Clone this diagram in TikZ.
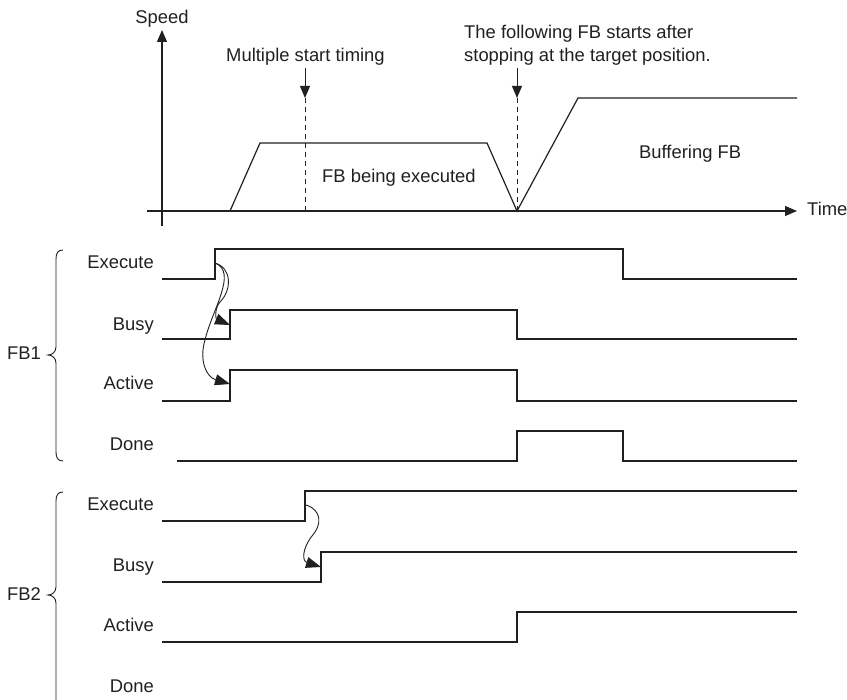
\documentclass[tikz,border=0pt]{standalone}
\usepackage{fontspec}
\setmainfont{Liberation Sans}
\usetikzlibrary{arrows.meta}
\definecolor{ink}{HTML}{231F20}
\begin{document}
\begin{tikzpicture}[x=1pt,y=-1pt,
  sig/.style={draw=ink,line width=1.3pt,line join=miter},
  tip/.style={-{Triangle[length=12pt,width=10pt]}},
  axis/.style={draw=ink,line width=1.1pt,tip},
  cause/.style={draw=ink,line width=0.9pt,-{Triangle[length=15pt,width=11pt]}},
  marker/.style={draw=ink,line width=1pt,tip},
  dashmark/.style={draw=ink,line width=1pt,dash pattern=on 5pt off 4pt},
  lbl/.style={text=ink,inner sep=0pt,font=\fontsize{18.4}{22}\selectfont},
  brace/.style={draw=ink,line width=0.9pt}]
\useasboundingbox (0,0) rectangle (847,700);
% ---------- speed chart ----------
\coordinate (ybot) at (162,226);
\coordinate (ytop) at (162,30);
\coordinate (xl) at (147,211);
\coordinate (xr) at (797,211);
\draw[axis] (ybot) -- (ytop);
\draw[axis] (xl) -- (xr);
\node[lbl,anchor=base] (speed) at (162,24) {Speed};
\node[lbl,anchor=base west] (time) at (807,216) {Time};
\draw[sig,line width=1.2pt] (230,211) -- (260,143) -- (487,143) -- (517,211) -- (578,98) -- (797,98);
\node[lbl,anchor=base west] (exec) at (322,183) {FB being executed};
\node[lbl,anchor=base west] (buff) at (639,159) {Buffering FB};
% markers
\node[lbl,anchor=base west] (multi) at (226,62) {Multiple start timing};
\coordinate (m1a) at (305,68);
\coordinate (m1b) at (305,98);
\coordinate (m1c) at (305,211);
\draw[marker] (m1a) -- (m1b);
\draw[dashmark] (m1b) -- (m1c);
\node[lbl,anchor=base west] (follow1) at (464,39) {The following FB starts after};
\node[lbl,anchor=base west] (follow2) at (464,62) {stopping at the target position.};
\coordinate (m2a) at (517,68);
\coordinate (m2b) at (517,98);
\coordinate (m2c) at (517,211);
\draw[marker] (m2a) -- (m2b);
\draw[dashmark] (m2b) -- (m2c);
% ---------- FB1 ----------
\node[lbl,anchor=base east] (e1) at (154,269) {Execute};
\node[lbl,anchor=base east] (b1) at (154,331) {Busy};
\node[lbl,anchor=base east] (a1) at (154,390) {Active};
\node[lbl,anchor=base east] (d1) at (154,451) {Done};
\node[lbl,anchor=base west] (fb1) at (7,360) {FB1};
\draw[sig] (162,279) -- (215,279) -- (215,249) -- (623,249) -- (623,279) -- (797,279);
\draw[sig] (162,339) -- (230,339) -- (230,310) -- (517,310) -- (517,339) -- (797,339);
\draw[sig] (162,401) -- (230,401) -- (230,370) -- (517,370) -- (517,401) -- (797,401);
\draw[sig] (177,461) -- (517,461) -- (517,431) -- (623,431) -- (623,461) -- (797,461);
\draw[brace] (63,250) .. controls (58,250) and (56,253) .. (56,259) -- (56,347)
  .. controls (56,352) and (52,355) .. (48,355)
  .. controls (52,355) and (56,358) .. (56,363) -- (56,452)
  .. controls (56,458) and (58,461) .. (63,461);
\coordinate (c1s) at (215,263);
\coordinate (c1b) at (230,325);
\coordinate (c1a) at (230,384);
\draw[cause] (c1s) .. controls (232,268) and (232,290) .. (220,302)
  .. controls (214,309) and (216,319) .. (c1b);
\draw[cause] (c1s) .. controls (238,272) and (212,310) .. (205,340)
  .. controls (199,360) and (206,377) .. (c1a);
% ---------- FB2 ----------
\node[lbl,anchor=base east] (e2) at (154,511) {Execute};
\node[lbl,anchor=base east] (b2) at (154,572) {Busy};
\node[lbl,anchor=base east] (a2) at (154,631) {Active};
\node[lbl,anchor=base east] (d2) at (154,692) {Done};
\node[lbl,anchor=base west] (fb2) at (7,601) {FB2};
\draw[sig] (162,521) -- (305,521) -- (305,491) -- (797,491);
\draw[sig] (162,582) -- (321,582) -- (321,552) -- (797,552);
\draw[sig] (162,642) -- (517,642) -- (517,612) -- (797,612);
\draw[brace] (63,492) .. controls (58,492) and (56,495) .. (56,501) -- (56,587)
  .. controls (56,592) and (52,595) .. (48,595)
  .. controls (52,595) and (56,598) .. (56,603) -- (56,700);
\coordinate (c2s) at (306,505);
\coordinate (c2b) at (321,567);
\draw[cause] (c2s) .. controls (322,510) and (322,525) .. (312,536)
  .. controls (302,549) and (302,561) .. (c2b);
\end{tikzpicture}
\end{document}
